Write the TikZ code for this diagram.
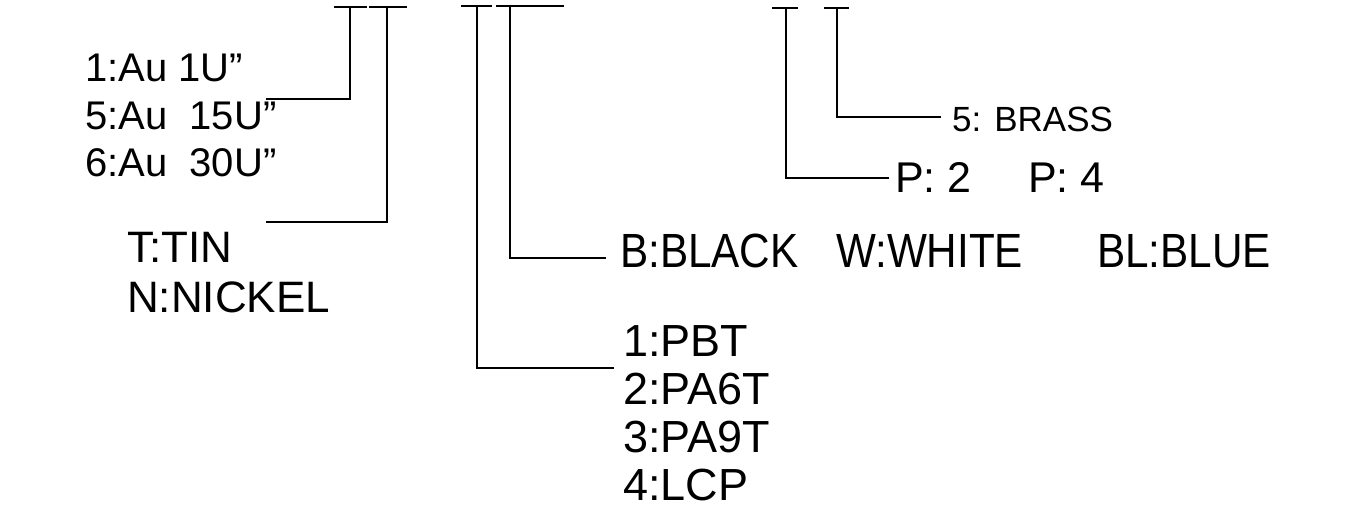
\documentclass[tikz,border=0pt]{standalone}
\usepackage{fontspec}
\setmainfont{Liberation Sans}
\newfontfamily\cadnarrow[FakeStretch=0.88]{Liberation Sans}
\usetikzlibrary{positioning}

\begin{document}
\begin{tikzpicture}[
  x=1pt,y=-1pt,
  lead/.style={line width=2.2pt,line cap=rect},
  lbl/.style={inner sep=0pt,anchor=base west},
  plate/.style={lbl,font=\fontsize{40}{48}\selectfont},
  metal/.style={lbl,font=\fontsize{44}{50}\selectfont},
  housing/.style={lbl,font=\fontsize{45}{48}\selectfont},
  colour/.style={lbl,font=\cadnarrow\fontsize{48}{50}\selectfont},
  pins/.style={lbl,font=\fontsize{43}{50}\selectfont},
  brass/.style={lbl,font=\fontsize{35}{40}\selectfont}
]
  \useasboundingbox (0,0) rectangle (1346,510);

  % stems under the part number
  \coordinate (plA) at (350,7);   \coordinate (plAend) at (267,99);
  \coordinate (plB) at (387,7);   \coordinate (plBend) at (267,222);
  \coordinate (hsA) at (477,6);   \coordinate (hsAend) at (613,368);
  \coordinate (hsB) at (510,6);   \coordinate (hsBend) at (605,258);
  \coordinate (pnA) at (786,8);   \coordinate (pnAend) at (888,178);
  \coordinate (pnB) at (837,8);   \coordinate (pnBend) at (940,117);

  % plating thickness
  \node[plate] (au1) at (85,82) {1:Au 1U”};
  \node[plate] (au5) at ([yshift=-48pt]au1.base west) {5:Au\ \ 15U”};
  \node[plate] (au6) at ([yshift=-47pt]au5.base west) {6:Au\ \ 30U”};

  % plating metal
  \node[metal] (tin) at (127,263) {T:TIN};
  \node[metal] (nickel) at ([yshift=-50pt]tin.base west) {N:NICKEL};

  % housing material
  \node[housing] (pbt) at (623,356) {1:PBT};
  \node[housing] (pa6t) at ([yshift=-48pt]pbt.base west) {2:PA6T};
  \node[housing] (pa9t) at ([yshift=-48pt]pa6t.base west) {3:PA9T};
  \node[housing] (lcp) at ([yshift=-48pt]pa9t.base west) {4:LCP};

  % housing colour
  \node[colour] (black) at (620,268) {B:BLACK};
  \node[colour] (white) at (836,268) {W:WHITE};
  \node[colour] (blue) at (1097,268) {BL:BLUE};

  % pins / contact metal
  \node[pins] (p2) at (895,193) {P: 2};
  \node[pins] (p4) at (1028,193) {P: 4};
  \node[brass] (brass) at (952,132) {5: BRASS};

  % T bars and leaders
  \draw[lead] ([xshift=-15pt]plA) -- ([xshift=16pt]plA);
  \draw[lead] ([xshift=-17pt]plB) -- ([xshift=19pt]plB);
  \draw[lead] ([xshift=-15pt]hsA) -- ([xshift=14pt]hsA);
  \draw[lead] ([xshift=-13pt]hsB) -- ([xshift=53pt]hsB);
  \draw[lead] ([xshift=-13pt]pnA) -- ([xshift=11pt]pnA);
  \draw[lead] ([xshift=-12pt]pnB) -- ([xshift=11pt]pnB);
  \foreach \s in {plA,plB,hsA,hsB,pnA,pnB}
    {\draw[lead] (\s) |- (\s end);}
\end{tikzpicture}
\end{document}
